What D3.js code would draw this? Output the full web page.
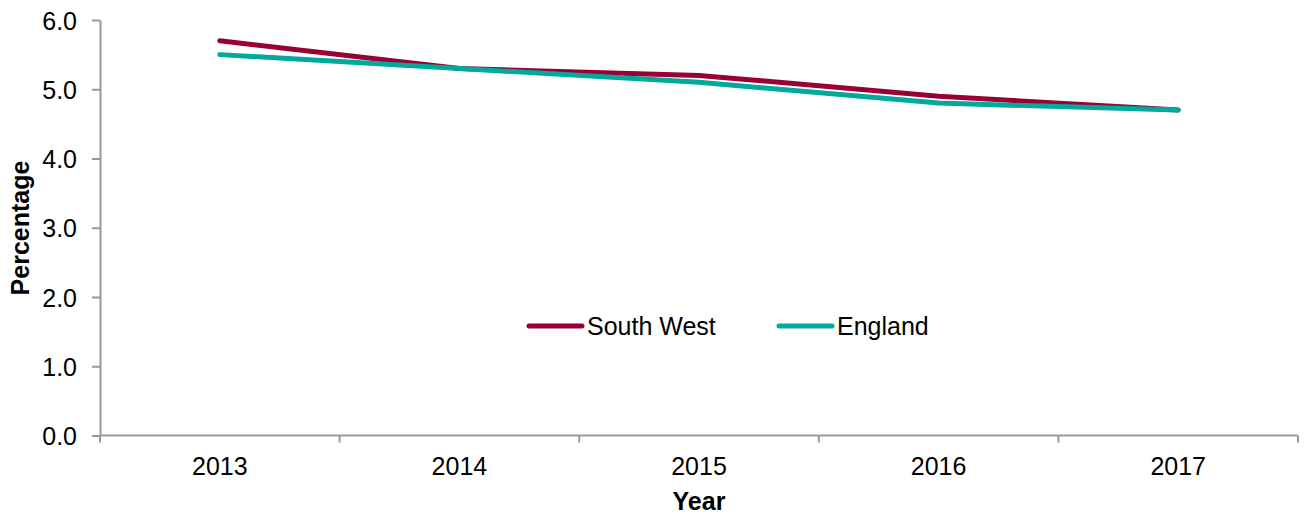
<!DOCTYPE html>
<html>
<head>
<meta charset="utf-8">
<script src="https://cdn.jsdelivr.net/npm/d3@7"></script>
<style>
  html, body { margin: 0; padding: 0; background: #fff; }
  svg { display: block; font-family: "Liberation Sans", Arial, sans-serif; }
</style>
</head>
<body>
<svg id="chart" width="1304" height="516"></svg>
<script>
// Percentage by year, South West vs England
const years = ["2013", "2014", "2015", "2016", "2017"];
const southWest = [5.7, 5.3, 5.2, 4.9, 4.7];
const england = [5.5, 5.3, 5.1, 4.8, 4.7];
const yTicks = [0, 1, 2, 3, 4, 5, 6];
const seriesNames = ["South West", "England"];
const seriesColors = ["#990033", "#00A99D"];

const svg = d3.select("#chart");
const plotLeft = 100, plotRight = 1298, plotTop = 20, plotBottom = 435.5;

const x = d3.scaleBand().domain(years).range([plotLeft, plotRight]);
const y = d3.scaleLinear().domain([0, 6]).range([plotBottom, plotTop]);

const axisColor = "#999";

// Y axis
const yAxis = svg.append("g")
  .attr("transform", `translate(${plotLeft},0)`)
  .call(d3.axisLeft(y).tickValues(yTicks).tickFormat(d3.format(".1f")).tickSize(8).tickSizeOuter(0));
yAxis.select(".domain").attr("stroke", axisColor).attr("stroke-width", 2);
yAxis.selectAll(".tick line").attr("stroke", axisColor).attr("stroke-width", 2);
yAxis.selectAll(".tick text")
  .attr("x", -23).attr("dy", "0.36em")
  .attr("font-size", 25).attr("fill", "#000")
  .attr("font-family", "Liberation Sans, Arial, sans-serif");

// X axis with ticks at category boundaries
const xAxis = svg.append("g")
  .attr("transform", `translate(0,${plotBottom})`);
xAxis.append("line")
  .attr("x1", plotLeft).attr("x2", plotRight)
  .attr("stroke", axisColor).attr("stroke-width", 2);
const boundaries = years.map(d => x(d)).concat([x(years[years.length - 1]) + x.bandwidth()]);
xAxis.selectAll(".bt").data(boundaries).join("line")
  .attr("class", "bt")
  .attr("x1", d => d).attr("x2", d => d)
  .attr("y1", 0).attr("y2", 7)
  .attr("stroke", axisColor).attr("stroke-width", 2);
xAxis.selectAll(".xl").data(years).join("text")
  .attr("class", "xl")
  .attr("x", d => x(d) + x.bandwidth() / 2)
  .attr("y", 39)
  .attr("text-anchor", "middle")
  .attr("font-size", 25).attr("fill", "#000")
  .text(d => d);

// Axis titles
svg.append("text")
  .attr("x", plotLeft + (plotRight - plotLeft) / 2)
  .attr("y", 510)
  .attr("text-anchor", "middle")
  .attr("font-size", 25).attr("font-weight", "bold")
  .text("Year");
svg.append("text")
  .attr("transform", "translate(29,228) rotate(-90)")
  .attr("text-anchor", "middle")
  .attr("font-size", 25).attr("font-weight", "bold")
  .text("Percentage");

// Lines
const line = d3.line()
  .x((d, i) => x(years[i]) + x.bandwidth() / 2)
  .y(d => y(d));
[southWest, england].forEach((vals, i) => {
  svg.append("path")
    .datum(vals)
    .attr("d", line)
    .attr("fill", "none")
    .attr("stroke", seriesColors[i])
    .attr("stroke-width", 5)
    .attr("stroke-linecap", "round")
    .attr("stroke-linejoin", "round");
});

// Legend
const legendX = [529, 779];
const legendY = 326;
seriesNames.forEach((name, i) => {
  const g = svg.append("g").attr("transform", `translate(${legendX[i]},${legendY})`);
  g.append("line")
    .attr("x1", 0).attr("x2", 53)
    .attr("stroke", seriesColors[i]).attr("stroke-width", 5)
    .attr("stroke-linecap", "round");
  g.append("text")
    .attr("x", 58).attr("y", 0).attr("dy", "0.36em")
    .attr("font-size", 25).attr("fill", "#000")
    .text(name);
});
</script>
</body>
</html>
